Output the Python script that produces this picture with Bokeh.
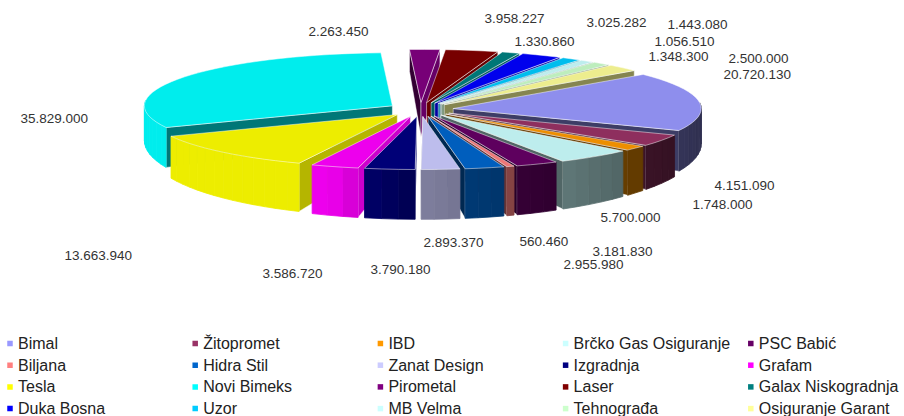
import math
from bokeh.plotting import figure
from bokeh.models import ColumnDataSource
from bokeh.core.properties import value
from bokeh.embed import file_html
from bokeh.resources import INLINE

names = ["Bimal", "Žitopromet", "IBD", "Brčko Gas Osiguranje", "PSC Babić",
         "Biljana", "Hidra Stil", "Zanat Design", "Izgradnja", "Grafam",
         "Tesla", "Novi Bimeks", "Pirometal", "Laser", "Galax Niskogradnja",
         "Duka Bosna", "Uzor", "MB Velma", "Tehnograđa", "Osiguranje Garant"]
values = [20720130, 4151090, 1748000, 5700000, 3181830,
          560460, 2955980, 2893370, 3790180, 3586720,
          13663940, 35829000, 2263450, 3958227, 1330860,
          3025282, 1443080, 1056510, 1348300, 2500000]
colors = ["#9999FF", "#993366", "#FF9900", "#CCFFFF", "#660066",
          "#FF8080", "#0066CC", "#CCCCFF", "#000080", "#FF00FF",
          "#FFFF00", "#00FFFF", "#800080", "#800000", "#008080",
          "#0000FF", "#00CCFF", "#CCFFFF", "#CCFFCC", "#FFFF99"]

# label anchor per slice (left edge, vertical centre)
label_pos = [(723, 74), (714, 185), (692, 204), (600, 217), (592, 251),
             (519, 241), (563, 264), (423, 242), (370, 269), (262, 273),
             (64, 255), (20, 118), (308, 31), (484, 18), (514, 41),
             (586, 22), (667, 24), (654, 41), (648, 56), (728, 58)]

CX, CY, RX, RY, EXPL = 420, 109, 248, 53, 33
START = 50.0
FONT = "Liberation Sans"
W, H = 904, 416


def shade(c, f):
    r, g, b = int(c[1:3], 16), int(c[3:5], 16), int(c[5:7], 16)
    return "#%02x%02x%02x" % (int(r * f), int(g * f), int(b * f))


def depth(y):
    return 22 + (y - 50) / 120 * 28


def project(clock, r, ox, oy):
    a = math.radians(clock)
    return ox + RX * r * math.sin(a), oy - RY * r * math.cos(a)


total = sum(values)
slices = []
cum = 0
for i, v in enumerate(values):
    a0 = START + cum / total * 360
    cum += v
    a1 = START + cum / total * 360
    slices.append((i, a0, a1))

xs, ys, fills, lines, alphas = [], [], [], [], []


def add(px, py, fill, line, alpha):
    xs.append(px)
    ys.append(py)
    fills.append(fill)
    lines.append(line)
    alphas.append(alpha)


for i, a0, a1 in sorted(slices, key=lambda s: math.cos(math.radians((s[1] + s[2]) / 2)), reverse=True):
    mid = math.radians((a0 + a1) / 2)
    ox = CX + EXPL * math.sin(mid)
    oy = CY - EXPL * RY / RX * math.cos(mid)
    n = max(2, int((a1 - a0) / 3) + 1)
    arc = [a0 + (a1 - a0) * k / (n - 1) for k in range(n)]
    pts = [project(a, 1, ox, oy) for a in arc]
    col = colors[i]
    edge = "#ffffff"

    def wall(p, q, f, ln, al):
        add([p[0], q[0], q[0], p[0]],
            [p[1], q[1], q[1] + depth(q[1]), p[1] + depth(p[1])], shade(col, f), ln, al)

    # radial walls
    apex = (ox, oy)
    for p, q in ((apex, pts[0]), (pts[-1], apex)):
        dx, dy = q[0] - p[0], q[1] - p[1]
        L = math.hypot(dx, dy)
        nx, ny = dy / L, -dx / L   # outward normal in screen coords, clockwise polygon
        if ny > -0.05:
            f = 0.40 + 0.7 * nx if nx > 0 else 0.40
            wall(p, q, min(f, 0.8), edge, 0.6)
    # outer rim
    for k in range(n - 1):
        c = (arc[k] + arc[k + 1]) / 2
        if math.cos(math.radians(c)) < 0.1:
            s = math.sin(math.radians(c))
            f = 0.62 - 0.3 * s if s > 0 else min(0.93, 0.62 - 0.95 * s)
            wall(pts[k], pts[k + 1], f, shade(col, f), 1.0)
    # top
    add([ox] + [p[0] for p in pts], [oy] + [p[1] for p in pts], shade(col, 0.93), edge, 0.6)

p = figure(width=W, height=H, x_range=(0, W), y_range=(H, 0), toolbar_location=None,
           output_backend="svg", min_border=0, outline_line_color=None)
p.axis.visible = False
p.grid.visible = False

p.patches("xs", "ys", source=ColumnDataSource(dict(xs=xs, ys=ys, f=fills, l=lines, a=alphas)),
          fill_color="f", line_color="l", line_alpha="a", line_width=0.8)

lab = [f"{v:,}".replace(",", ".") for v in values]
p.text([q[0] for q in label_pos], [q[1] for q in label_pos], text=lab,
       text_font=value(FONT), text_font_size="13.5px", text_color="#333333",
       text_baseline="middle", text_align="left")

LEG_X0, LEG_DX, LEG_Y0, LEG_DY = 9.5, 185.2, 343, 21.7
lx = [LEG_X0 + LEG_DX * (k % 5) for k in range(len(names))]
ly = [LEG_Y0 + LEG_DY * (k // 5) for k in range(len(names))]
p.scatter(lx, ly, marker="square", size=5.5, fill_color=colors, line_color=None)
p.text([x + 8 for x in lx], ly, text=names, text_font=value(FONT), text_font_size="16px",
       text_color="#222222", text_baseline="middle", text_align="left")

open("out.html", "w").write(file_html(p, INLINE))
